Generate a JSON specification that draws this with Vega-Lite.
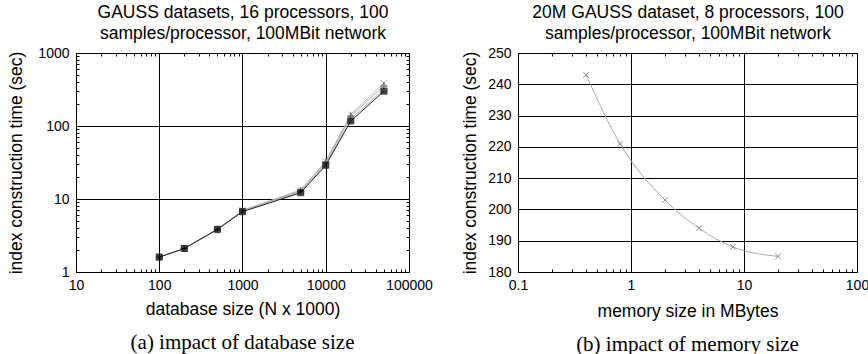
{
  "$schema": "https://vega.github.io/schema/vega-lite/v6.json",
  "padding": {"left": 7, "top": 3, "right": 5, "bottom": 3},
  "background": "white",
  "config": {
    "font": "Liberation Sans",
    "view": {"stroke": "black", "strokeWidth": 1},
    "axis": {"labelFont": "Liberation Sans", "titleFont": "Liberation Sans", "labelFontSize": 14, "titleFontSize": 17.5, "titleFontWeight": "normal", "labelColor": "black", "titleColor": "black", "domainColor": "black", "tickColor": "black", "gridColor": "black", "gridWidth": 1},
    "title": {"font": "Liberation Serif", "fontSize": 21, "fontWeight": "normal", "color": "black"}
  },
  "spacing": 28,
  "hconcat": [
    {
      "title": {"text": "(a) impact of database size", "orient": "bottom", "anchor": "middle", "offset": 14},
      "width": 333,
      "height": 219,
      "data": {"values": [
        {"series": "PBULK mem 400KB", "n": 100, "t": 1.6},
        {"series": "PBULK mem 400KB", "n": 200, "t": 2.1},
        {"series": "PBULK mem 400KB", "n": 500, "t": 3.85},
        {"series": "PBULK mem 400KB", "n": 1000, "t": 7.0},
        {"series": "PBULK mem 400KB", "n": 5000, "t": 13.3},
        {"series": "PBULK mem 400KB", "n": 10000, "t": 33},
        {"series": "PBULK mem 400KB", "n": 20000, "t": 145},
        {"series": "PBULK mem 400KB", "n": 50000, "t": 388},
        {"series": "PBULK mem 800KB", "n": 100, "t": 1.6},
        {"series": "PBULK mem 800KB", "n": 200, "t": 2.1},
        {"series": "PBULK mem 800KB", "n": 500, "t": 3.8},
        {"series": "PBULK mem 800KB", "n": 1000, "t": 6.9},
        {"series": "PBULK mem 800KB", "n": 5000, "t": 13.0},
        {"series": "PBULK mem 800KB", "n": 10000, "t": 32},
        {"series": "PBULK mem 800KB", "n": 20000, "t": 137},
        {"series": "PBULK mem 800KB", "n": 50000, "t": 353},
        {"series": "PBULK mem 4MB", "n": 100, "t": 1.6},
        {"series": "PBULK mem 4MB", "n": 200, "t": 2.1},
        {"series": "PBULK mem 4MB", "n": 500, "t": 3.8},
        {"series": "PBULK mem 4MB", "n": 1000, "t": 6.8},
        {"series": "PBULK mem 4MB", "n": 5000, "t": 12.6},
        {"series": "PBULK mem 4MB", "n": 10000, "t": 30},
        {"series": "PBULK mem 4MB", "n": 20000, "t": 125},
        {"series": "PBULK mem 4MB", "n": 50000, "t": 320},
        {"series": "PBULK mem 40MB", "n": 100, "t": 1.6},
        {"series": "PBULK mem 40MB", "n": 200, "t": 2.1},
        {"series": "PBULK mem 40MB", "n": 500, "t": 3.85},
        {"series": "PBULK mem 40MB", "n": 1000, "t": 6.7},
        {"series": "PBULK mem 40MB", "n": 5000, "t": 12.2},
        {"series": "PBULK mem 40MB", "n": 10000, "t": 29},
        {"series": "PBULK mem 40MB", "n": 20000, "t": 117},
        {"series": "PBULK mem 40MB", "n": 50000, "t": 300}
      ]},
      "resolve": {"axis": {"x": "independent", "y": "independent"}},
      "layer": [
        {
          "mark": {"type": "line", "strokeWidth": 1},
          "encoding": {
            "x": {"field": "n", "type": "quantitative", "scale": {"type": "log", "domain": [10, 100000], "nice": false},
              "axis": {"orient": "bottom", "title": "database size (N x 1000)", "titlePadding": 5, "labelPadding": 12,
                "values": [10,20,30,40,50,60,70,80,90,100,200,300,400,500,600,700,800,900,1000,2000,3000,4000,5000,6000,7000,8000,9000,10000,20000,30000,40000,50000,60000,70000,80000,90000,100000],
                "labelExpr": "indexof([10,100,1000,10000,100000], datum.value) >= 0 ? format(datum.value, 'd') : ''",
                "labelFlush": false, "labelOverlap": false, "grid": true,
                "gridOpacity": {"condition": {"test": "indexof([10,100,1000,10000,100000], datum.value) >= 0", "value": 1}, "value": 0},
                "tickSize": {"condition": {"test": "indexof([10,100,1000,10000,100000], datum.value) >= 0", "value": -6}, "value": -3}}},
            "y": {"field": "t", "type": "quantitative", "scale": {"type": "log", "domain": [1, 1000], "nice": false},
              "axis": {"orient": "left", "title": "index construction time (sec)", "titlePadding": 12, "labelPadding": 13,
                "values": [1,2,3,4,5,6,7,8,9,10,20,30,40,50,60,70,80,90,100,200,300,400,500,600,700,800,900,1000],
                "labelExpr": "indexof([1,10,100,1000], datum.value) >= 0 ? format(datum.value, 'd') : ''",
                "labelFlush": false, "labelOverlap": false, "grid": true,
                "gridOpacity": {"condition": {"test": "indexof([1,10,100,1000], datum.value) >= 0", "value": 1}, "value": 0},
                "tickSize": {"condition": {"test": "indexof([1,10,100,1000], datum.value) >= 0", "value": -6}, "value": -3}}},
            "stroke": {"field": "series", "type": "nominal", "legend": null,
              "scale": {"domain": ["PBULK mem 400KB", "PBULK mem 800KB", "PBULK mem 4MB", "PBULK mem 40MB"], "range": ["#bbbbbb", "#aaaaaa", "#b5b5b5", "#222222"]}}
          }
        },
        {
          "mark": {"type": "point", "strokeWidth": 1, "size": 36, "filled": false},
          "encoding": {
            "x": {"field": "n", "type": "quantitative", "scale": {"type": "log", "domain": [10, 100000], "nice": false}, "axis": null},
            "y": {"field": "t", "type": "quantitative", "scale": {"type": "log", "domain": [1, 1000], "nice": false}, "axis": null},
            "color": {"field": "series", "type": "nominal", "legend": null,
              "scale": {"domain": ["PBULK mem 400KB", "PBULK mem 800KB", "PBULK mem 4MB", "PBULK mem 40MB"], "range": ["#999999", "#000000", "#999999", "#000000"]}},
            "shape": {"field": "series", "type": "nominal", "title": "",
              "scale": {"domain": ["PBULK mem 400KB", "PBULK mem 800KB", "PBULK mem 4MB", "PBULK mem 40MB"], "range": ["M-1,-1L1,1M-1,1L1,-1", "M-1.2,0L1.2,0M0,-1.2L0,1.2", "M-1,-1H1V1H-1Z", "M-1,-1H1V1H-1Z"]},
              "legend": {"orient": "none", "legendX": 236, "legendY": 16, "padding": 0, "labelAlign": "right", "labelOffset": -21, "labelFontSize": 10.5, "labelFont": "Liberation Sans", "labelColor": "black", "rowPadding": -1, "symbolSize": 30, "symbolStrokeWidth": 1, "symbolStrokeColor": "black",
                "encode": {"symbols": {"update": {
                  "shape": {"signal": "datum.value == 'PBULK mem 400KB' ? 'M-5,0H5M-1,-1L1,1M-1,1L1,-1' : datum.value == 'PBULK mem 800KB' ? 'M-5,0H5M0,-1.2L0,1.2' : datum.value == 'PBULK mem 4MB' ? 'M-5,0H-1M1,0H5M-1,-1H1V1H-1Z' : 'M-5,0H5M-1,-1H1V1H-1Z'"},
                  "fill": {"signal": "datum.value == 'PBULK mem 40MB' ? 'black' : 'transparent'"}}}}}},
            "fill": {"condition": {"test": "datum.series == 'PBULK mem 40MB'", "value": "black"}, "value": "transparent"}
          }
        },
        {
          "mark": {"type": "point", "opacity": 0},
          "encoding": {
            "x": {"field": "n", "type": "quantitative", "scale": {"type": "log", "domain": [10, 100000], "nice": false},
              "axis": {"orient": "top", "title": ["GAUSS datasets, 16 processors, 100", "samples/processor, 100MBit network"], "titleLineHeight": 21, "titlePadding": 10, "labels": false, "domain": false, "grid": false,
                "values": [10,20,30,40,50,60,70,80,90,100,200,300,400,500,600,700,800,900,1000,2000,3000,4000,5000,6000,7000,8000,9000,10000,20000,30000,40000,50000,60000,70000,80000,90000,100000],
                "tickSize": {"condition": {"test": "indexof([10,100,1000,10000,100000], datum.value) >= 0", "value": -6}, "value": -3}}},
            "y": {"field": "t", "type": "quantitative", "scale": {"type": "log", "domain": [1, 1000], "nice": false},
              "axis": {"orient": "right", "title": null, "labels": false, "domain": false, "grid": false,
                "values": [1,2,3,4,5,6,7,8,9,10,20,30,40,50,60,70,80,90,100,200,300,400,500,600,700,800,900,1000],
                "tickSize": {"condition": {"test": "indexof([1,10,100,1000], datum.value) >= 0", "value": -6}, "value": -3}}}
          }
        }
      ]
    },
    {
      "title": {"text": "(b) impact of memory size", "orient": "bottom", "anchor": "middle", "offset": 14},
      "width": 339,
      "height": 219,
      "data": {"values": [
        {"mem": 0.4, "t": 243},
        {"mem": 0.8, "t": 221},
        {"mem": 2, "t": 203},
        {"mem": 4, "t": 194},
        {"mem": 8, "t": 188},
        {"mem": 20, "t": 185}
      ]},
      "resolve": {"axis": {"x": "independent", "y": "independent"}},
      "layer": [
        {
          "mark": {"type": "line", "interpolate": "monotone", "color": "#aaaaaa", "strokeWidth": 1},
          "encoding": {
            "x": {"field": "mem", "type": "quantitative", "scale": {"type": "log", "domain": [0.1, 100], "nice": false},
              "axis": {"orient": "bottom", "title": "memory size in MBytes", "titlePadding": 7, "labelPadding": 12,
                "values": [0.1,0.2,0.3,0.4,0.5,0.6,0.7,0.8,0.9,1,2,3,4,5,6,7,8,9,10,20,30,40,50,60,70,80,90,100],
                "labelExpr": "indexof([0.1,1,10,100], datum.value) >= 0 ? format(datum.value, '') : ''",
                "labelFlush": false, "labelOverlap": false, "grid": true,
                "gridOpacity": {"condition": {"test": "indexof([0.1,1,10,100], datum.value) >= 0", "value": 1}, "value": 0},
                "tickSize": {"condition": {"test": "indexof([0.1,1,10,100], datum.value) >= 0", "value": -6}, "value": -3}}},
            "y": {"field": "t", "type": "quantitative", "scale": {"domain": [180, 250], "nice": false, "zero": false},
              "axis": {"orient": "left", "title": "index construction time (sec)", "titlePadding": 8, "labelPadding": 13,
                "values": [180,190,200,210,220,230,240,250], "grid": true, "tickSize": -6, "format": "d"}}
          }
        },
        {
          "mark": {"type": "point", "shape": "M-1,-1L1,1M-1,1L1,-1", "size": 30, "stroke": "#888888", "strokeWidth": 1, "filled": false, "opacity": 1},
          "encoding": {
            "x": {"field": "mem", "type": "quantitative", "scale": {"type": "log", "domain": [0.1, 100], "nice": false}, "axis": null},
            "y": {"field": "t", "type": "quantitative", "scale": {"domain": [180, 250], "nice": false, "zero": false}, "axis": null}
          }
        },
        {
          "mark": {"type": "point", "opacity": 0},
          "encoding": {
            "x": {"field": "mem", "type": "quantitative", "scale": {"type": "log", "domain": [0.1, 100], "nice": false},
              "axis": {"orient": "top", "title": ["20M GAUSS dataset, 8 processors, 100", "samples/processor, 100MBit network"], "titleLineHeight": 21, "titlePadding": 10, "labels": false, "domain": false, "grid": false,
                "values": [0.1,0.2,0.3,0.4,0.5,0.6,0.7,0.8,0.9,1,2,3,4,5,6,7,8,9,10,20,30,40,50,60,70,80,90,100],
                "tickSize": {"condition": {"test": "indexof([0.1,1,10,100], datum.value) >= 0", "value": -6}, "value": -3}}},
            "y": {"field": "t", "type": "quantitative", "scale": {"domain": [180, 250], "nice": false, "zero": false},
              "axis": {"orient": "right", "title": null, "labels": false, "domain": false, "grid": false,
                "values": [180,190,200,210,220,230,240,250], "tickSize": -6}}
          }
        }
      ]
    }
  ]
}
